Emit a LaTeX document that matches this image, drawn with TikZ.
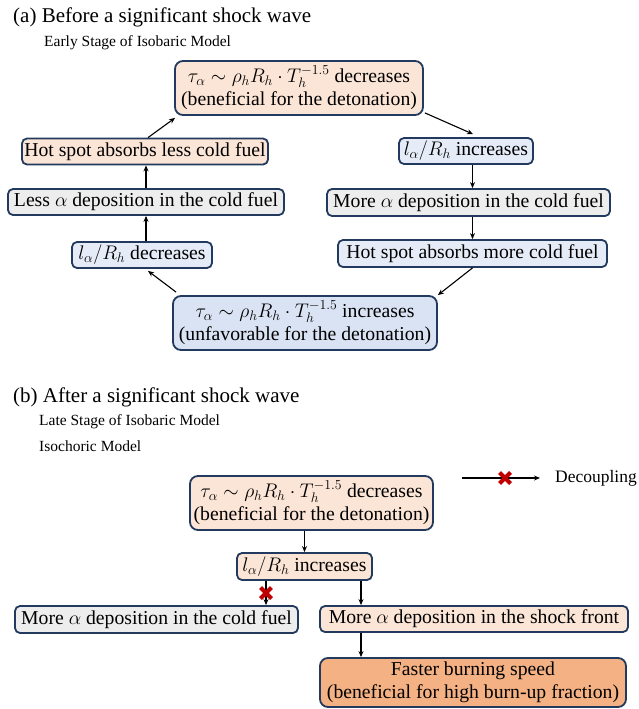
\RequirePackage{fix-cm}
\documentclass[tikz,border=0pt]{standalone}
\usepackage{fontspec}
\setmainfont{Liberation Serif}
\usetikzlibrary{arrows.meta,calc}
\definecolor{peach}{HTML}{FBE5D6}
\definecolor{lblue}{HTML}{DAE3F3}
\definecolor{pblue}{HTML}{E6ECF7}
\definecolor{lgray}{HTML}{EDEDED}
\definecolor{orng}{HTML}{F4B183}
\definecolor{navy}{HTML}{223A5E}
\definecolor{xred}{HTML}{C00000}
\tikzset{
  box/.style={draw=navy, line width=1.8pt, rounded corners=5pt, inner sep=0pt, align=center,
    font=\fontsize{19.7}{23}\selectfont},
  bigbox/.style={box, rounded corners=8pt},
  arr/.style={-{Stealth[length=6pt,width=5pt]}, line width=1.1pt},
  ttl/.style={anchor=base west, inner sep=0pt, font=\fontsize{21}{25}\selectfont},
  subttl/.style={anchor=base west, inner sep=0pt, font=\fontsize{15.5}{18}\selectfont},
  xmark/.pic={\draw[xred, line width=4pt] (-5.5,-5.5)--(5.5,5.5) (-5.5,5.5)--(5.5,-5.5);}
}
\begin{document}
\begin{tikzpicture}[x=1pt,y=-1pt]
\useasboundingbox[fill=white] (0,0) rectangle (638,709);

% ---------- (a) ----------
\node[ttl] (ta) at (13,23) {(a) Before a significant shock wave};
\node[subttl] (sa) at (44,47) {Early Stage of Isobaric Model};

\node[bigbox, fill=peach, minimum width=248pt, minimum height=54pt] (A1) at (299,88)
  {$\tau_\alpha \sim \rho_h R_h \cdot T_h^{-1.5}$ decreases\\(beneficial for the detonation)};
\node[box, fill=peach, minimum width=246pt, minimum height=26pt] (A2) at (145,151.5)
  {Hot spot absorbs less cold fuel};
\node[box, fill=pblue, minimum width=134pt, minimum height=26pt] (A3) at (466,151)
  {$l_\alpha/R_h$ increases};
\node[box, fill=lgray, minimum width=276pt, minimum height=26pt] (A4) at (146,202)
  {Less $\alpha$ deposition in the cold fuel};
\node[box, fill=lgray, minimum width=283pt, minimum height=27pt] (A5) at (468.5,202.5)
  {More $\alpha$ deposition in the cold fuel};
\node[box, fill=pblue, minimum width=140pt, minimum height=26pt] (A6) at (142,255)
  {$l_\alpha/R_h$ decreases};
\node[box, fill=pblue, minimum width=269pt, minimum height=27pt] (A7) at (472.5,253.5)
  {Hot spot absorbs more cold fuel};
\node[bigbox, fill=lblue, minimum width=264pt, minimum height=54pt] (A8) at (305,323)
  {$\tau_\alpha \sim \rho_h R_h \cdot T_h^{-1.5}$ increases\\(unfavorable for the detonation)};

\draw[arr] ([xshift=3pt]A2.north) -- ([xshift=1pt,yshift=-2pt]A1.south west);
\draw[arr] ([xshift=1pt,yshift=3pt]A1.south east) -- ([xshift=7pt,yshift=3pt]A3.north);
\draw[arr] (A3.south -| A7) -- (A5.north -| A7);
\draw[arr] (A5.south -| A7) -- (A7.north);
\draw[arr] (A7.south) -- (A8.north east);
\draw[arr] ([xshift=4pt,yshift=3pt]A8.north west) -- ([xshift=6pt,yshift=-2pt]A6.south);
\draw[arr] (A6.north -| A4) -- (A4.south);
\draw[arr] (A4.north) -- (A2.south -| A4);

% ---------- (b) ----------
\node[ttl] (tb) at (13,402) {(b) After a significant shock wave};
\node[subttl] (sb1) at (39,425) {Late Stage of Isobaric Model};
\node[subttl] (sb2) at (39,451) {Isochoric Model};

\node[bigbox, fill=peach, minimum width=243pt, minimum height=54pt] (B1) at (311.5,503)
  {$\tau_\alpha \sim \rho_h R_h \cdot T_h^{-1.5}$ decreases\\(beneficial for the detonation)};
\node[box, fill=peach, minimum width=135pt, minimum height=27pt] (B2) at (304.5,566.5)
  {$l_\alpha/R_h$ increases};
\node[box, fill=lgray, minimum width=283pt, minimum height=27pt] (B3) at (156.5,619.5)
  {More $\alpha$ deposition in the cold fuel};
\node[box, fill=peach, minimum width=308pt, minimum height=26pt] (B4) at (474,619)
  {More $\alpha$ deposition in the shock front};
\node[bigbox, fill=orng, minimum width=306pt, minimum height=49pt] (B5) at (473,682.5)
  {Faster burning speed\\(beneficial for high burn-up fraction)};

\coordinate (cl) at (266,0);
\coordinate (cr) at (361,0);
\draw[arr] (B1.south -| B2) -- (B2.north);
\draw[arr] (B2.south -| cl) -- coordinate[pos=0.5] (xm1) (B3.north -| cl);
\path (xm1) pic {xmark};
\draw[arr] (B2.south -| cr) -- (B4.north -| cr);
\draw[arr] (B4.south -| cr) -- (B5.north -| cr);

% legend
\node[anchor=west, inner sep=0pt, font=\fontsize{17.5}{20}\selectfont] (dec) at (555,478) {Decoupling};
\coordinate (L1) at (462,478);
\draw[arr] (L1) -- ([xshift=-15pt]dec.west);
\coordinate (xm2) at (505,478);
\path (xm2) pic {xmark};
\end{tikzpicture}
\end{document}
